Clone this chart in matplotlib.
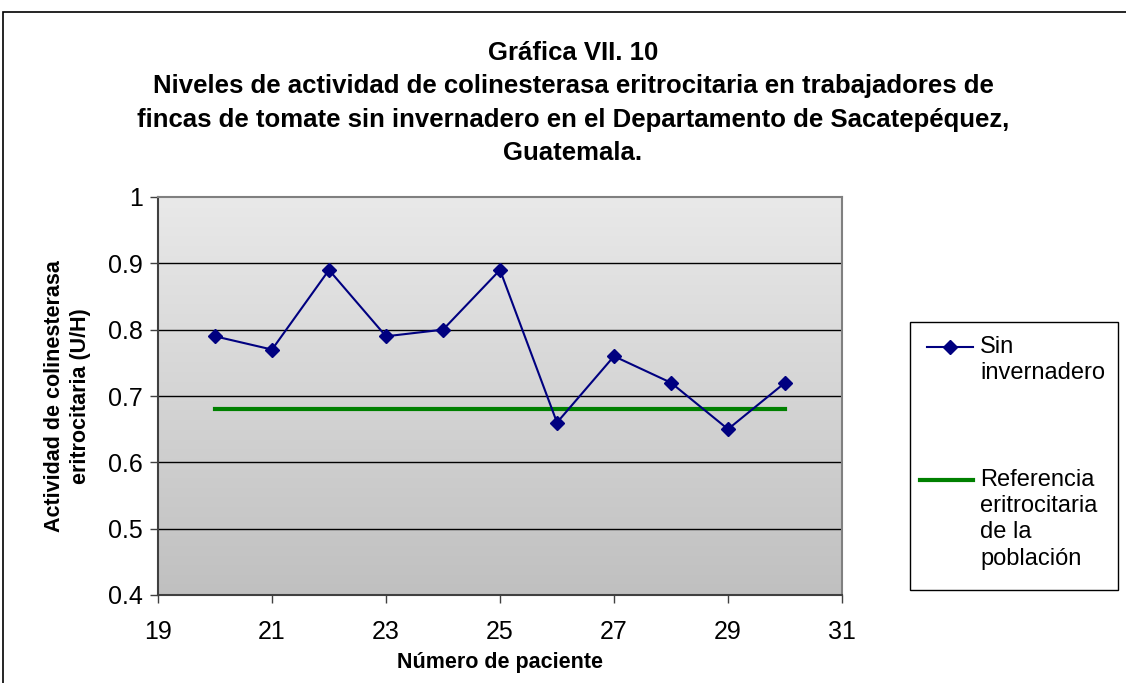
import numpy as np
import matplotlib.pyplot as plt
from matplotlib.patches import Rectangle
from matplotlib.lines import Line2D
from matplotlib.colors import LinearSegmentedColormap

plt.rcParams['font.family'] = ['Liberation Sans', 'DejaVu Sans']

# data
pacientes = [20, 21, 22, 23, 24, 25, 26, 27, 28, 29, 30]
actividad = [0.79, 0.77, 0.89, 0.79, 0.80, 0.89, 0.66, 0.76, 0.72, 0.65, 0.72]
referencia = [0.68, 0.68, 0.68, 0.68, 0.68, 0.68, 0.68, 0.68, 0.68, 0.68, 0.68]
x_ticks = [19, 21, 23, 25, 27, 29, 31]
y_ticks = [0.4, 0.5, 0.6, 0.7, 0.8, 0.9, 1.0]
y_labels = ["0.4", "0.5", "0.6", "0.7", "0.8", "0.9", "1"]
serie1 = 'Sin\ninvernadero'
serie2 = 'Referencia\neritrocitaria\nde la\npoblación'

W, H = 1126, 683
fig = plt.figure(figsize=(W / 100, H / 100), dpi=100)

def fx(px):
    return px / W

def fy(py):
    return 1 - py / H

# outer frame
fig.patches.append(Rectangle((fx(3), -0.01), 1.2, fy(12) + 0.01,
                             transform=fig.transFigure, fill=False,
                             edgecolor='black', linewidth=1.2))

ax = fig.add_axes([fx(158), fy(595), fx(842) - fx(158), fy(197) - fy(595)])
ax.set_xlim(19, 31)
ax.set_ylim(0.4, 1.0)

# gradient background
grad = np.linspace(0, 1, 256).reshape(-1, 1)
ax.imshow(grad, extent=[19, 31, 0.4, 1.0], aspect='auto', origin='lower',
          cmap=LinearSegmentedColormap.from_list('g', ['#c0c0c0', '#e9e9e9']),
          zorder=0)

for y in y_ticks[1:-1]:
    ax.axhline(y, color='black', linewidth=1, zorder=1)

ax.plot(pacientes, actividad, color='#000080', marker='D', markersize=7,
        linewidth=1.5, zorder=3)
ax.plot(pacientes, referencia, color='#008000', linewidth=3, zorder=2)

ax.set_xticks(x_ticks)
ax.set_yticks(y_ticks)
ax.set_yticklabels(y_labels)
ax.tick_params(labelsize=18, direction='out', length=6, width=1, color='#404040')
ax.tick_params(axis='x', pad=12)
ax.tick_params(axis='y', pad=5)
for s in ['top', 'right']:
    ax.spines[s].set_color('#808080')
    ax.spines[s].set_linewidth(1.5)
for s in ['left', 'bottom']:
    ax.spines[s].set_color('#404040')
    ax.spines[s].set_linewidth(1.5)

ax.set_xlabel('Número de paciente', fontsize=15.5, fontweight='bold', labelpad=6)
ax.set_ylabel('Actividad de colinesterasa\neritrocitaria (U/H)', fontsize=15.5,
              fontweight='bold', labelpad=12, linespacing=1.3)

fig.text(fx(573), fy(103),
         'Gráfica VII. 10\n'
         'Niveles de actividad de colinesterasa eritrocitaria en trabajadores de\n'
         'fincas de tomate sin invernadero en el Departamento de Sacatepéquez,\n'
         'Guatemala.',
         ha='center', va='center', fontsize=18.5, fontweight='bold',
         linespacing=1.48)

# legend box
fig.patches.append(Rectangle((fx(910), fy(590)), fx(1118) - fx(910), fy(322) - fy(590),
                             transform=fig.transFigure, facecolor='white',
                             edgecolor='black', linewidth=1))
fig.add_artist(Line2D([fx(927), fx(973)], [fy(347), fy(347)], color='#000080',
                      linewidth=1.5))
fig.add_artist(Line2D([fx(950)], [fy(347)], color='#000080', marker='D',
                      markersize=7))
fig.add_artist(Line2D([fx(920), fx(973)], [fy(480), fy(480)], color='#008000',
                      linewidth=3))
fig.text(fx(980), fy(336), serie1, ha='left', va='top', fontsize=17,
         linespacing=1.25)
fig.text(fx(980), fy(469), serie2, ha='left', va='top', fontsize=17,
         linespacing=1.25)

fig.savefig('out.png', dpi=100)
